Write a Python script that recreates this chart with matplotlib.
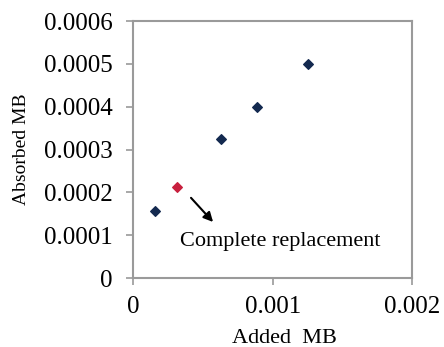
import matplotlib
matplotlib.use("Agg")
import matplotlib.pyplot as plt

added_mb = [0.000156, 0.000629, 0.000889, 0.001255]
absorbed_mb = [0.000157, 0.000325, 0.000400, 0.000500]
replacement_x = [0.000315]
replacement_y = [0.000212]
x_ticks = [0, 0.001, 0.002]
x_labels = ["0", "0.001", "0.002"]
y_ticks = [0, 0.0001, 0.0002, 0.0003, 0.0004, 0.0005, 0.0006]
y_labels = ["0", "0.0001", "0.0002", "0.0003", "0.0004", "0.0005", "0.0006"]

plt.rcParams['font.family'] = ['Liberation Serif', 'DejaVu Serif']

fig = plt.figure(figsize=(4.44, 3.47), dpi=100)
ax = fig.add_axes([0.3003, 0.1988, 0.6284, 0.7406])

ax.scatter(added_mb, absorbed_mb, marker='D', s=24, color='#13294f', zorder=3)
ax.scatter(replacement_x, replacement_y, marker='D', s=24, color='#c8203e', zorder=3)

ax.set_xlim(0, 0.002)
ax.set_ylim(0, 0.0006)
ax.set_xticks(x_ticks)
ax.set_xticklabels(x_labels)
ax.set_yticks(y_ticks)
ax.set_yticklabels(y_labels)

for sp in ax.spines.values():
    sp.set_color('#9a9a9a')
    sp.set_linewidth(1.5)

ax.tick_params(axis='both', colors='#9a9a9a', length=5, width=1.2,
               labelcolor='black', labelsize=18, direction='out')
ax.tick_params(axis='y', pad=10)
ax.tick_params(axis='x', pad=8)

ax.set_xlabel("Added  MB", fontsize=16, labelpad=10)
ax.xaxis.set_label_coords(0.54, -0.2)
ax.set_ylabel("Absorbed MB", fontsize=14, labelpad=10)

ax.annotate("", xy=(0.000585, 0.000126), xytext=(0.000400, 0.000192),
            arrowprops=dict(arrowstyle='-|>', color='black', lw=1.5,
                            mutation_scale=14))
ax.text(0.000335, 0.000085, "Complete replacement", fontsize=16,
        ha='left', va='center')

fig.savefig("out.png", dpi=100)
